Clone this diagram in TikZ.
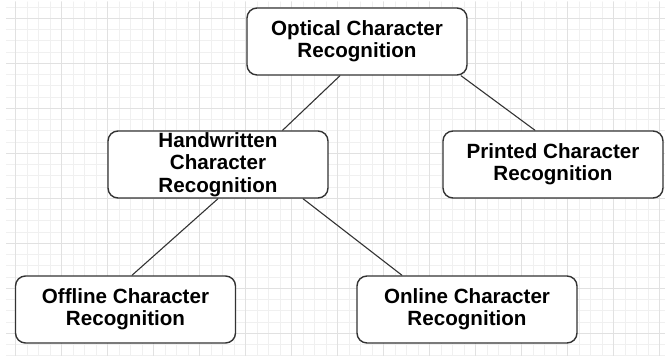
\documentclass[tikz,border=0pt]{standalone}
\usepackage{fontspec}
\setmainfont{Liberation Sans}
\definecolor{gridminor}{HTML}{F0F0F0}
\definecolor{gridmajor}{HTML}{E1E1E1}
\definecolor{edge}{HTML}{333333}
\definecolor{ink}{HTML}{000000}
\tikzset{
  box/.style={draw=edge, line width=0.7pt, rounded corners=5pt, fill=white,
    minimum width=110pt, minimum height=33.5pt, inner xsep=2pt, inner ysep=0pt,
    align=center, font=\bfseries\fontsize{10.3}{11.2}\selectfont, text=ink},
  link/.style={draw=edge, line width=0.55pt},
}
\begin{document}
\begin{tikzpicture}[x=0.5pt, y=-0.5pt, line cap=round, line join=round]
\path[use as bounding box] (0,0) rectangle (665,356);
\begin{scope}
  \clip (6,2) rectangle (665,356);
  \foreach \k in {0,...,56}{
    \draw[gridminor,line width=0.5pt] (15.7+11.5*\k,2) -- ++(0,354);
  }
  \foreach \k in {0,...,31}{
    \draw[gridminor,line width=0.5pt] (6,7.05+11.25*\k) -- ++(659,0);
  }
  \foreach \k in {0,...,14}{
    \draw[gridmajor,line width=0.5pt] (15.7+46*\k,2) -- ++(0,354);
  }
  \foreach \k in {0,...,7}{
    \draw[gridmajor,line width=0.5pt] (6,18.3+45*\k) -- ++(659,0);
  }
\end{scope}

\node[box] (ocr) at (357,41.5) {Optical Character\\Recognition};
\node[box] (hcr) at (218,164.5) {Handwritten\\Character\\Recognition};
\node[box] (pcr) at (553,164.5) {Printed Character\\Recognition};
\node[box] (offcr) at (125.5,309.5) {Offline Character\\Recognition};
\node[box] (oncr) at (467,309.5) {Online Character\\Recognition};

\draw[link] ([xshift=-8.5pt]ocr.south) -- ([xshift=32.3pt]hcr.north);
\draw[link] ([xshift=52pt]ocr.south) -- ([xshift=-9pt]pcr.north);
\draw[link] (hcr.south) -- ([xshift=3.25pt]offcr.north);
\draw[link] ([xshift=42.5pt]hcr.south) -- ([xshift=-32.5pt]oncr.north);
\end{tikzpicture}
\end{document}
